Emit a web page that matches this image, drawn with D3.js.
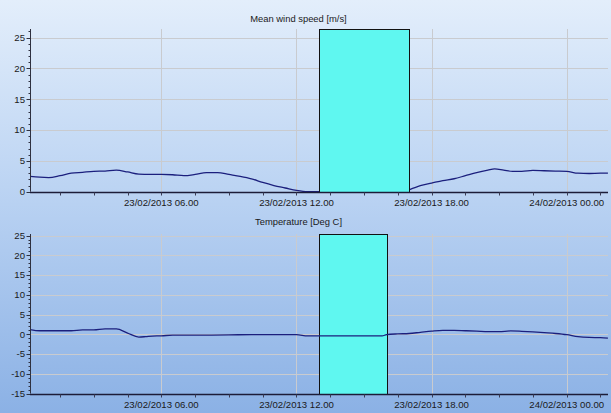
<!DOCTYPE html>
<html>
<head>
<meta charset="utf-8">
<script src="https://cdn.jsdelivr.net/npm/d3@7"></script>
<style>
  html, body { margin: 0; padding: 0; background: #ffffff; }
  svg { display: block; }
  text { font-family: "Liberation Sans", Arial, sans-serif; fill: #1a1a1a; }
</style>
</head>
<body>
<svg id="chart" width="611" height="413"></svg>
<script>
// Time is given in hours from 23/02/2013 00:00.
const timeStart = 0.1667;   // 00:10
const timeEnd = 25.8333;    // 24/02 01:50

// Mean wind speed [m/s]; null marks missing records.
const windHours = [0.17, 0.6, 1.0, 1.5, 2.0, 2.5, 3.0, 3.5, 4.0, 4.5, 5.0, 5.5, 6.0, 6.5, 7.0, 7.5, 8.0, 8.5, 9.0, 9.5, 10.0, 10.5, 11.0, 11.5, 12.0, 12.5, 13.0, 15.0,
  17.0, 17.5, 18.0, 18.5, 19.0, 19.5, 20.0, 20.5, 20.8, 21.2, 21.6, 22.0, 22.5, 23.0, 23.5, 24.0, 24.5, 25.0, 25.5, 25.83];
const windValues = [2.5, 2.35, 2.3, 2.6, 3.0, 3.15, 3.3, 3.35, 3.5, 3.2, 2.85, 2.8, 2.8, 2.75, 2.6, 2.8, 3.1, 3.1, 2.8, 2.5, 2.1, 1.5, 1.0, 0.6, 0.2, 0.0, 0.0, null,
  0.3, 1.0, 1.4, 1.8, 2.1, 2.6, 3.1, 3.5, 3.7, 3.5, 3.3, 3.3, 3.45, 3.4, 3.35, 3.3, 3.0, 2.95, 3.0, 3.0];

// Temperature [Deg C]
const tempHours = [0.17, 0.6, 1.0, 2.0, 2.5, 3.0, 3.5, 4.0, 4.5, 5.0, 5.3, 5.6, 6.0, 6.5, 7.0, 8.0, 9.0, 10.0, 11.0, 12.0, 12.5, 13.0, 14.0, 15.0, 15.8, 16.0, 16.5,
  17.0, 17.5, 18.0, 18.5, 19.0, 19.5, 20.0, 20.5, 21.0, 21.5, 22.0, 22.5, 23.0, 23.5, 24.0, 24.5, 25.0, 25.5, 25.83];
const tempValues = [1.2, 0.9, 0.9, 0.9, 1.1, 1.1, 1.35, 1.35, 0.3, -0.7, -0.6, -0.45, -0.4, -0.2, -0.2, -0.2, -0.15, -0.1, -0.1, -0.1, -0.4, -0.4, -0.4, -0.4, -0.4, -0.1, 0.1,
  0.2, 0.5, 0.8, 1.0, 1.0, 0.9, 0.8, 0.65, 0.65, 0.85, 0.75, 0.6, 0.4, 0.2, -0.1, -0.6, -0.8, -0.85, -0.95];

// Highlighted periods [start hour, end hour]
const windPeriod = [13, 17];
const tempPeriod = [13, 16];

// Axis settings
const windDomain = [0, 26.4];
const tempDomain = [-15, 25.4];
const yTicksWind = [0, 5, 10, 15, 20, 25];
const yTicksTemp = [-15, -10, -5, 0, 5, 10, 15, 20, 25];
const xMajorHours = [6, 12, 18, 24];
const xTickLabels = ["23/02/2013 06.00", "23/02/2013 12.00", "23/02/2013 18.00", "24/02/2013 00.00"];

const titles = ["Mean wind speed [m/s]", "Temperature [Deg C]"];

const base = new Date(2013, 1, 23, 0, 0, 0);
const toDate = h => new Date(base.getTime() + h * 3600e3);

const svg = d3.select("#chart");

// Background gradient
const defs = svg.append("defs");
const grad = defs.append("linearGradient").attr("id", "bg")
  .attr("x1", 0).attr("y1", 0).attr("x2", 0).attr("y2", 1);
grad.append("stop").attr("offset", "0%").attr("stop-color", "#e3eefb");
grad.append("stop").attr("offset", "45%").attr("stop-color", "#bcd4f3");
grad.append("stop").attr("offset", "100%").attr("stop-color", "#8bb1e5");
svg.append("rect").attr("width", 611).attr("height", 413).attr("fill", "url(#bg)");

const left = 30, right = 608;
const x = d3.scaleTime().domain([toDate(timeStart), toDate(timeEnd)]).range([left, right]);

function panel(opts) {
  const { top, bottom, domain, yTicks, hours, values, period, title, titleY, lineOnTop } = opts;
  const y = d3.scaleLinear().domain(domain).range([bottom, top]);
  const g = svg.append("g");

  // horizontal grid
  g.append("g").selectAll("line").data(yTicks).join("line")
    .attr("x1", left).attr("x2", right)
    .attr("y1", d => Math.round(y(d)) + 0.5).attr("y2", d => Math.round(y(d)) + 0.5)
    .attr("stroke", "#c9cbcf").attr("stroke-width", 1);

  // vertical grid
  g.append("g").selectAll("line").data(xMajorHours).join("line")
    .attr("x1", d => Math.round(x(toDate(d))) + 0.5).attr("x2", d => Math.round(x(toDate(d))) + 0.5)
    .attr("y1", top).attr("y2", bottom)
    .attr("stroke", "#c9cbcf").attr("stroke-width", 1);

  const pts = hours.map((h, i) => ({ t: toDate(h), v: values[i] }));
  const line = d3.line().defined(d => d.v !== null)
    .x(d => x(d.t)).y(d => y(d.v)).curve(d3.curveMonotoneX);

  const drawLine = () => g.append("path").datum(pts)
    .attr("d", line).attr("fill", "none")
    .attr("stroke", "#1b1f7d").attr("stroke-width", 1.3);

  if (!lineOnTop) drawLine();

  // highlighted period
  g.append("rect")
    .attr("x", Math.round(x(toDate(period[0]))) + 0.5)
    .attr("y", Math.round(y(domain[1])) + 0.5)
    .attr("width", Math.round(x(toDate(period[1]))) - Math.round(x(toDate(period[0]))))
    .attr("height", Math.round(y(domain[0])) - Math.round(y(domain[1])))
    .attr("fill", "#5ff7f0").attr("stroke", "#111").attr("stroke-width", 1);

  if (lineOnTop) drawLine();

  // y axis
  const minor = d3.range(Math.ceil(domain[0]), Math.floor(domain[1]) + 1);
  const yAxis = g.append("g").attr("transform", `translate(${left + 0.5},0)`);
  yAxis.append("line").attr("y1", top).attr("y2", bottom).attr("stroke", "#2f3140");
  yAxis.selectAll(".mn").data(minor).join("line").attr("class", "mn")
    .attr("x1", -2).attr("x2", 0)
    .attr("y1", d => Math.round(y(d)) + 0.5).attr("y2", d => Math.round(y(d)) + 0.5)
    .attr("stroke", "#2f3140");
  yAxis.selectAll(".mj").data(yTicks).join("line").attr("class", "mj")
    .attr("x1", -4).attr("x2", 0)
    .attr("y1", d => Math.round(y(d)) + 0.5).attr("y2", d => Math.round(y(d)) + 0.5)
    .attr("stroke", "#2f3140");
  yAxis.selectAll("text").data(yTicks).join("text")
    .attr("x", -5.5).attr("y", d => y(d)).attr("dy", "0.34em")
    .attr("text-anchor", "end").attr("font-size", "9.6px").text(d => d);

  // x axis
  const xAxis = g.append("g").attr("transform", `translate(0,${Math.round(bottom) + 0.5})`);
  xAxis.append("line").attr("x1", left).attr("x2", right).attr("stroke", "#1c1c38").attr("stroke-width", 1.3);
  const xMinor = d3.range(1.5, timeEnd, 1.5).filter(h => h >= timeStart);
  xAxis.selectAll(".xm").data(xMinor).join("line").attr("class", "xm")
    .attr("x1", d => Math.round(x(toDate(d))) + 0.5).attr("x2", d => Math.round(x(toDate(d))) + 0.5)
    .attr("y1", 0).attr("y2", 3).attr("stroke", "#3a3c55");
  xAxis.selectAll("text").data(xMajorHours).join("text")
    .attr("x", d => x(toDate(d))).attr("y", 13.3)
    .attr("text-anchor", "middle").attr("font-size", "9.6px")
    .text((d, i) => xTickLabels[i]);

  // panel title
  svg.append("text").attr("x", 298.5).attr("y", titleY)
    .attr("text-anchor", "middle").attr("font-size", "9.4px").text(title);
}

panel({ top: 29, bottom: 191.7, domain: windDomain, yTicks: yTicksWind,
  hours: windHours, values: windValues, period: windPeriod, title: titles[0], titleY: 21.5, lineOnTop: false });
panel({ top: 234, bottom: 393.5, domain: tempDomain, yTicks: yTicksTemp,
  hours: tempHours, values: tempValues, period: tempPeriod, title: titles[1], titleY: 224.5, lineOnTop: true });
</script>
</body>
</html>
